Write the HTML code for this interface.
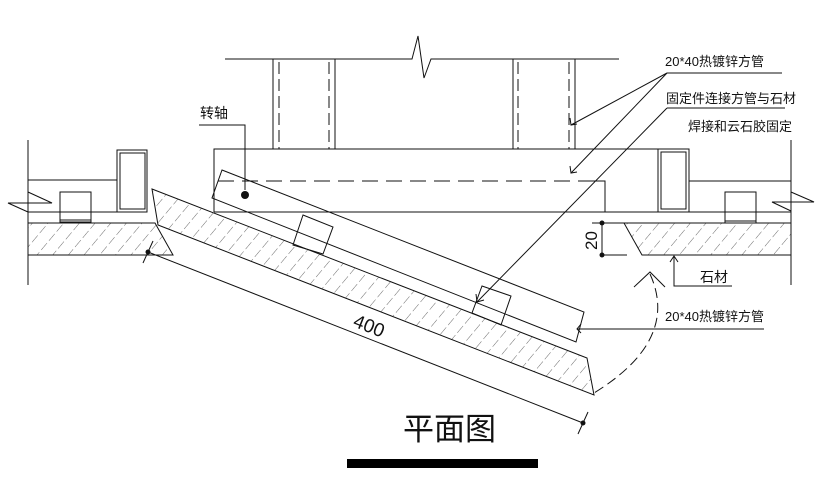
<!DOCTYPE html>
<html><head><meta charset="utf-8"><style>
html,body{margin:0;padding:0;background:#fff;}
svg{display:block;}
text{font-family:"Liberation Sans","Noto Sans CJK SC",sans-serif;fill:#111;}
</style></head><body>
<svg width="828" height="497" viewBox="0 0 828 497" xmlns="http://www.w3.org/2000/svg">
<defs>
<pattern id="h" patternUnits="userSpaceOnUse" width="12" height="12" patternTransform="rotate(40)">
<line x1="0" y1="0" x2="0" y2="9" stroke="#444" stroke-width="0.8"/>
</pattern>
</defs>
<g stroke="#111" stroke-width="1" fill="none">
<polyline points="225,59 412,59 418,36 424,78 431,59 619,59"/>
<line x1="273" y1="59" x2="273" y2="149"/>
<line x1="279" y1="62" x2="279" y2="149" stroke-dasharray="12,5"/>
<line x1="329" y1="62" x2="329" y2="149" stroke-dasharray="12,5"/>
<line x1="335" y1="59" x2="335" y2="149"/>
<line x1="513" y1="59" x2="513" y2="149"/>
<line x1="518" y1="62" x2="518" y2="149" stroke-dasharray="12,5"/>
<line x1="569" y1="62" x2="569" y2="149" stroke-dasharray="12,5"/>
<line x1="575" y1="59" x2="575" y2="149"/>
<polyline points="214,212 214,149 689,149"/>
<line x1="214" y1="212" x2="791" y2="212"/>
<line x1="218" y1="181" x2="580" y2="181" stroke-dasharray="16,8"/>
<polyline points="580,181 605,181 605,212"/>
<line x1="689" y1="181" x2="791" y2="181"/>
<rect x="658" y="149" width="31" height="63"/>
<rect x="661" y="152" width="25" height="57"/>
<line x1="28" y1="140" x2="28" y2="285"/>
<line x1="28" y1="180" x2="117" y2="180"/>
<rect x="117" y="150" width="30" height="62"/>
<rect x="120" y="153" width="25" height="56"/>
<polyline points="28,192 52,203 8,203 28,212"/>
<line x1="28" y1="212" x2="147" y2="212"/>
<rect x="60" y="192" width="31" height="30"/>
<line x1="60" y1="220" x2="91" y2="220"/>
<polygon points="28,223 155,223 173,255 28,255" fill="url(#h)"/>
<line x1="791" y1="140" x2="791" y2="285"/>
<polyline points="791,192 814,202 772,202 791,211"/>
<rect x="725" y="192" width="31" height="31"/>
<line x1="725" y1="221" x2="756" y2="221"/>
<line x1="592" y1="223" x2="624" y2="223"/>
<polygon points="624,223 791,223 791,255 642,255" fill="url(#h)"/>
<line x1="602" y1="255" x2="627" y2="255"/>
<line x1="602" y1="223" x2="602" y2="255"/>
<polyline points="732,286 674,286 674,256"/>
<polyline points="670,262 674,256 678,262"/>
<polygon points="152,189 587,358 594,395 158,225" fill="url(#h)"/>
<polygon points="222,170 584,312 576,342 212,198"/>
<polygon points="303,215 333,227 323,254 293,245"/>
<polygon points="482,286 511,296 501,325 472,313"/>
<polyline points="199,125 245,125 245,190"/>
<line x1="148" y1="252" x2="583" y2="423"/>
<line x1="143" y1="263" x2="153" y2="241"/>
<line x1="578" y1="434" x2="588" y2="412"/>
<path d="M650,274 Q680,340 594,393" stroke-dasharray="10,5"/>
<polyline points="634,287 650,272 665,287"/>
<line x1="667" y1="73" x2="782" y2="73"/>
<line x1="667" y1="73" x2="571" y2="125"/>
<line x1="667" y1="73" x2="571" y2="173"/>
<line x1="667" y1="108" x2="785" y2="108"/>
<line x1="667" y1="108" x2="477" y2="302"/>
<line x1="577" y1="329" x2="764" y2="329"/>
<polyline points="570,118 571,125 577,124"/>
<polyline points="570,166 571,173 577,172"/>
<polyline points="476,294 477,302 484,300"/>
<polyline points="581,324 577,329 581,333"/>
</g>
<circle cx="245" cy="195" r="4" fill="#111"/>
<circle cx="148" cy="252" r="2.5" fill="#111"/>
<circle cx="583" cy="423" r="2.5" fill="#111"/>
<circle cx="602" cy="223" r="2.5" fill="#111"/>
<circle cx="602" cy="255" r="2.5" fill="#111"/>
<text x="200" y="118" font-size="14">转轴</text>
<text x="665" y="66" font-size="13">20*40热镀锌方管</text>
<text x="666" y="103" font-size="13">固定件连接方管与石材</text>
<text x="688" y="131" font-size="13">焊接和云石胶固定</text>
<text x="700" y="282" font-size="14">石材</text>
<text x="665" y="321" font-size="13">20*40热镀锌方管</text>
<text x="0" y="0" font-size="17" font-family="Liberation Serif,serif" transform="translate(597,250) rotate(-90)">20</text>
<text x="0" y="0" font-size="19" font-family="Liberation Serif,serif" transform="translate(352,326) rotate(21.5)">400</text>
<text x="403" y="440" font-size="31">平面图</text>
<rect x="347" y="459" width="191" height="9" fill="#000"/>
</svg>
</body></html>
